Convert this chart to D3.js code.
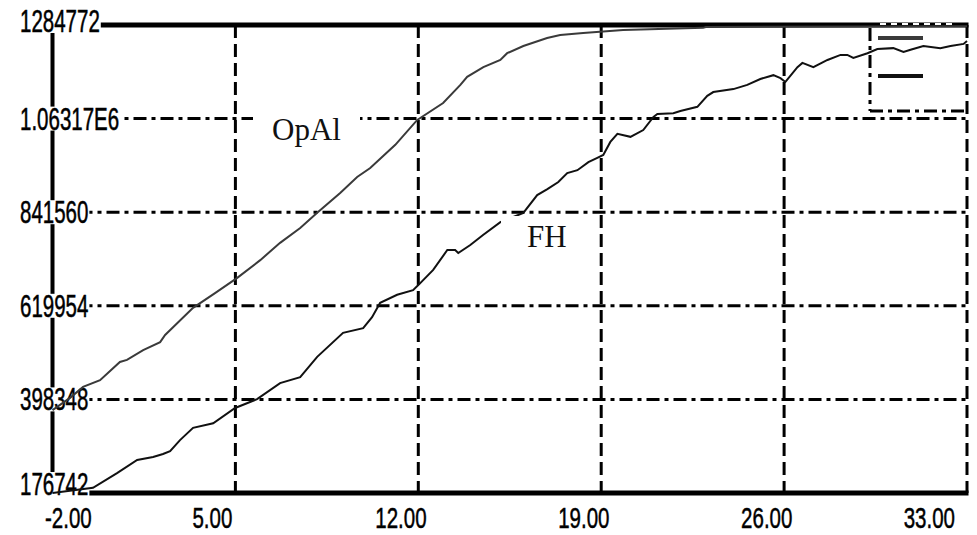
<!DOCTYPE html>
<html>
<head>
<meta charset="utf-8">
<script src="https://cdn.jsdelivr.net/npm/d3@7"></script>
<style>
  html, body { margin: 0; padding: 0; background: #fff; }
  svg { display: block; }
</style>
</head>
<body>
<svg id="chart" width="977" height="535"></svg>
<script>
// ---- data ----
const xTicks = [-2, 5, 12, 19, 26, 33];
const xTickLabels = ["-2.00", "5.00", "12.00", "19.00", "26.00", "33.00"];
const yTicks = [176742, 398348, 619954, 841560, 1063166, 1284772];
const yTickLabels = ["176742", "398348", "619954", "841560", "1.06317E6", "1284772"];

const seriesNames = ["OpAl", "FH"];

const xOpAl = [-2.00, -1.33, -0.83, -0.18, 0.58, 0.85, 1.47, 2.12, 2.31, 3.38, 4.22, 5.07, 5.95, 6.71, 7.48, 8.13, 9.01, 9.66, 10.16, 11.12, 11.96, 12.95, 13.61, 13.87, 14.49, 15.14, 15.40, 16.02, 16.93, 17.43, 18.31, 19.84, 22.90, 23.00, 33.00];
const yOpAl = [373000, 402000, 428000, 444000, 487000, 492000, 515000, 534000, 551000, 615000, 650000, 686000, 728000, 769000, 804000, 840000, 887000, 925000, 946000, 1001000, 1060000, 1100000, 1143000, 1162000, 1185000, 1202000, 1218000, 1235000, 1254000, 1261000, 1266000, 1273000, 1278000, 1280000, 1282000];

const xFH = [-2.00, -0.45, 0.47, 1.24, 1.85, 2.23, 2.50, 2.88, 3.38, 4.15, 4.99, 5.83, 6.71, 7.48, 8.13, 9.12, 9.89, 10.23, 10.54, 11.19, 11.80, 12.00, 12.57, 13.11, 13.41, 13.53, 13.99, 14.49, 15.14, 16.02, 16.55, 16.94, 17.36, 17.70, 18.09, 18.51, 18.85, 19.08, 19.35, 19.62, 20.12, 20.61, 21.00, 21.15, 21.76, 22.03, 22.68, 23.06, 23.29, 24.06, 24.59, 25.09, 25.59, 25.86, 26.05, 26.51, 26.70, 27.12, 27.66, 28.16, 28.42, 28.65, 29.19, 29.57, 30.18, 30.57, 30.84, 31.33, 31.98, 32.37, 32.87, 33.00];
const yFH = [176742, 189000, 224000, 255000, 262000, 269000, 276000, 302000, 331000, 342000, 378000, 399000, 437000, 451000, 499000, 556000, 567000, 593000, 627000, 646000, 657000, 669000, 705000, 752000, 752000, 745000, 764000, 788000, 818000, 840000, 882000, 896000, 913000, 934000, 941000, 960000, 970000, 977000, 1008000, 1027000, 1020000, 1036000, 1067000, 1074000, 1076000, 1081000, 1091000, 1117000, 1126000, 1133000, 1143000, 1157000, 1166000, 1159000, 1150000, 1185000, 1195000, 1185000, 1202000, 1214000, 1214000, 1207000, 1218000, 1228000, 1230000, 1221000, 1226000, 1235000, 1230000, 1235000, 1240000, 1247000];

// ---- drawing ----
const svg = d3.select("#chart");
const x = d3.scaleLinear().domain([-2, 33]).range([52.5, 967]);
const y = d3.scaleLinear().domain([176742, 1284772]).range([493, 25]);

const labelFont = "'Liberation Sans', Arial, sans-serif";
const serif = "'Liberation Serif', 'Times New Roman', serif";

// horizontal grid lines (dash-dot)
svg.append("g").selectAll("line")
  .data(yTicks.slice(1, -1))
  .join("line")
  .attr("x1", x(-2)).attr("x2", x(33))
  .attr("y1", d => y(d)).attr("y2", d => y(d))
  .attr("stroke", "#000").attr("stroke-width", 3)
  .attr("stroke-dasharray", "13,5,4,5");

// vertical grid lines (dashed)
svg.append("g").selectAll("line")
  .data(xTicks.slice(1))
  .join("line")
  .attr("x1", d => x(d)).attr("x2", d => x(d))
  .attr("y1", y(1284772)).attr("y2", y(176742))
  .attr("stroke", "#000").attr("stroke-width", 3)
  .attr("stroke-dasharray", "13,6");

// axes lines
const axes = svg.append("g").attr("stroke", "#000");
axes.append("line").attr("x1", x(-2)).attr("x2", x(33) + 1.5)
  .attr("y1", y(1284772)).attr("y2", y(1284772)).attr("stroke-width", 5);
axes.append("line").attr("x1", x(-2)).attr("x2", x(33) + 1.5)
  .attr("y1", y(176742)).attr("y2", y(176742)).attr("stroke-width", 5);
axes.append("line").attr("x1", x(-2)).attr("x2", x(-2))
  .attr("y1", y(1284772)).attr("y2", y(176742)).attr("stroke-width", 4);

// legend box
const lg = svg.append("g");
lg.append("line").attr("x1", 870).attr("x2", 870).attr("y1", 28).attr("y2", 111)
  .attr("stroke", "#000").attr("stroke-width", 3).attr("stroke-dasharray", "13,5,4,5");
lg.append("line").attr("x1", 870).attr("x2", 966).attr("y1", 111).attr("y2", 111)
  .attr("stroke", "#000").attr("stroke-width", 3).attr("stroke-dasharray", "13,5,4,5");
lg.append("line").attr("x1", 880).attr("x2", 955).attr("y1", 24).attr("y2", 24)
  .attr("stroke", "#fff").attr("stroke-width", 2).attr("stroke-dasharray", "6,5");
const legendColors = ["#3a3a3a", "#111"];
lg.selectAll("line.key").data(seriesNames).join("line").attr("class", "key")
  .attr("x1", 878).attr("x2", 923)
  .attr("y1", (d, i) => 38 + i * 38).attr("y2", (d, i) => 38 + i * 38)
  .attr("stroke", (d, i) => legendColors[i]).attr("stroke-width", 4);

// y tick labels with white background
const yl = svg.append("g");
yTicks.forEach((v, i) => {
  let yc = y(v);
  if (i === 0) yc = 484;
  if (i === yTicks.length - 1) yc = 21;
  const g = yl.append("g");
  const t = g.append("text")
    .attr("transform", `translate(20,${yc + 11}) scale(1,1.5)`)
    .attr("font-family", labelFont).attr("font-size", 20.5)
    .attr("fill", "#000").attr("stroke", "#000").attr("stroke-width", 0.35)
    .text(yTickLabels[i]);
  const bb = t.node().getBBox();
  g.insert("rect", "text").attr("x", 18).attr("y", yc - 12)
    .attr("width", bb.width + 3).attr("height", 24).attr("fill", "#fff");
});

// x tick labels
const xl = svg.append("g");
xTicks.forEach((v, i) => {
  const t = xl.append("text")
    .attr("font-family", labelFont).attr("font-size", 20.5)
    .attr("fill", "#000").attr("stroke", "#000").attr("stroke-width", 0.35)
    .text(xTickLabels[i]);
  const w = t.node().getComputedTextLength();
  let left = x(v) - 43;
  if (left < 45) left = 45;
  if (left + w > 955) left = 955 - w;
  t.attr("transform", `translate(${left},528) scale(1,1.42)`);
});

// data lines
const line = d3.line().x(d => x(d[0])).y(d => y(d[1]));
const opal = xOpAl.map((v, i) => [v, yOpAl[i]]);
const fh = xFH.map((v, i) => [v, yFH[i]]);
svg.append("path").datum(opal).attr("d", line)
  .attr("fill", "none").attr("stroke", "#3a3a3a").attr("stroke-width", 2);
svg.append("path").datum(fh).attr("d", line)
  .attr("fill", "none").attr("stroke", "#111").attr("stroke-width", 2);

// annotations with white boxes
svg.append("rect").attr("x", 253).attr("y", 106).attr("width", 107).attr("height", 48).attr("fill", "#fff");
svg.append("text").attr("x", 272).attr("y", 140)
  .attr("font-family", serif).attr("font-size", 31).attr("fill", "#111").text("OpAl");
svg.append("rect").attr("x", 501).attr("y", 216).attr("width", 78).attr("height", 44).attr("fill", "#fff");
svg.append("text").attr("x", 527).attr("y", 247)
  .attr("font-family", serif).attr("font-size", 31).attr("fill", "#111").text("FH");
</script>
</body>
</html>
